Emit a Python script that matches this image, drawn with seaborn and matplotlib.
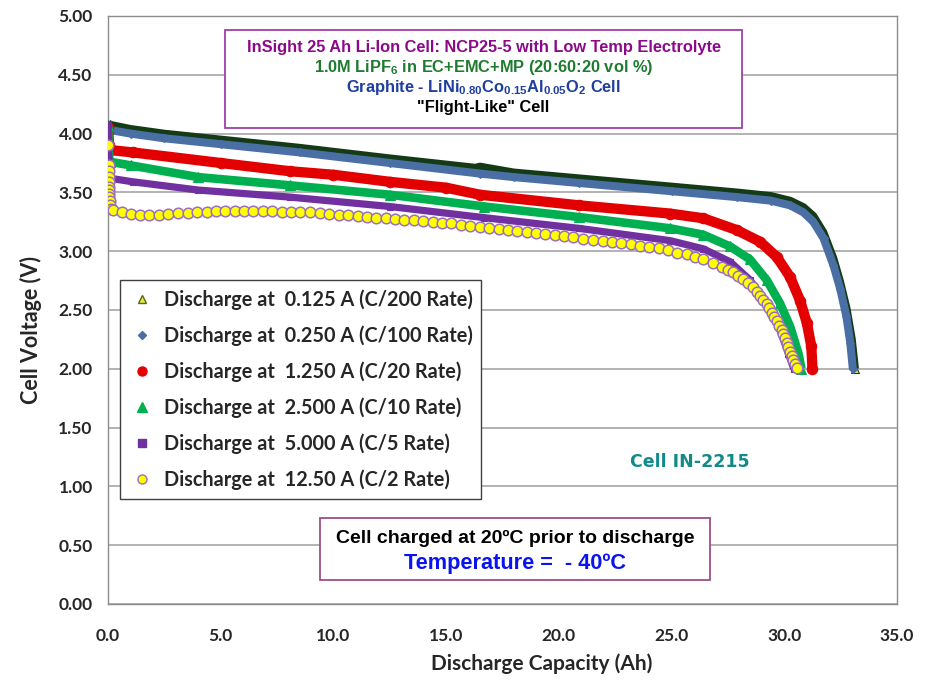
import matplotlib
matplotlib.use("Agg")
import matplotlib.pyplot as plt
from matplotlib.lines import Line2D
from matplotlib.patches import Rectangle
import seaborn as sns

sns.set_theme(style="white")
plt.rcParams["font.family"] = ["Lato", "DejaVu Sans"]
plt.rcParams["mathtext.fontset"] = "custom"
plt.rcParams["mathtext.rm"] = "Liberation Sans:bold"
plt.rcParams["mathtext.bf"] = "Liberation Sans:bold"
plt.rcParams["mathtext.it"] = "Liberation Sans:bold"

# ---------------- data ----------------
labels = [
    "Discharge at  0.125 A (C/200 Rate)",
    "Discharge at  0.250 A (C/100 Rate)",
    "Discharge at  1.250 A (C/20 Rate)",
    "Discharge at  2.500 A (C/10 Rate)",
    "Discharge at  5.000 A (C/5 Rate)",
    "Discharge at  12.50 A (C/2 Rate)",
]

cap_c200 = [0.0, 0.1, 1.0, 2.5, 5.0, 8.5, 12.5, 16.3, 16.5, 18.0, 20.9, 25.0, 27.9, 29.4,
            30.26, 30.85, 31.29, 31.74, 32.18, 32.48, 32.77, 33.0, 33.14]
v_c200 = [4.09, 4.075, 4.04, 4.00, 3.95, 3.88, 3.79, 3.71, 3.72, 3.67, 3.62, 3.55, 3.50, 3.47,
          3.43, 3.375, 3.30, 3.16, 2.94, 2.74, 2.51, 2.25, 2.00]

cap_c100 = [0.0, 0.1, 1.0, 2.5, 5.0, 8.5, 12.5, 16.5, 18.0, 20.9, 25.0, 27.9, 29.4,
            30.26, 30.85, 31.29, 31.74, 32.18, 32.48, 32.75, 32.93, 33.04]
v_c100 = [4.06, 4.03, 4.00, 3.96, 3.91, 3.84, 3.75, 3.66, 3.63, 3.58, 3.51, 3.46, 3.43,
          3.39, 3.33, 3.25, 3.11, 2.88, 2.68, 2.45, 2.22, 2.00]

cap_c20 = [0.0, 0.05, 0.1, 1.1, 5.0, 8.07, 10.0, 12.5, 15.0, 16.5, 20.9, 24.93, 26.41,
           27.89, 28.93, 29.67, 30.26, 30.70, 31.0, 31.20, 31.25]
v_c20 = [4.06, 3.90, 3.86, 3.84, 3.75, 3.68, 3.65, 3.59, 3.54, 3.48, 3.39, 3.32, 3.28,
         3.18, 3.08, 2.95, 2.78, 2.58, 2.39, 2.19, 2.00]

cap_c10 = [0.0, 0.05, 0.1, 1.0, 4.0, 8.07, 12.5, 16.7, 20.9, 24.93, 26.41, 27.6, 28.48,
           29.22, 29.81, 30.26, 30.63, 30.76]
v_c10 = [4.07, 3.80, 3.76, 3.73, 3.63, 3.56, 3.48, 3.38, 3.29, 3.195, 3.14, 3.04, 2.93,
         2.755, 2.557, 2.36, 2.13, 2.00]

cap_c5 = [0.0, 0.05, 0.1, 1.1, 4.0, 8.07, 12.5, 16.7, 20.9, 24.93, 26.41, 27.6, 28.48,
          29.22, 29.81, 30.18, 30.42]
v_c5 = [4.08, 3.70, 3.62, 3.59, 3.52, 3.46, 3.38, 3.285, 3.194, 3.09, 3.02, 2.91, 2.755,
        2.557, 2.33, 2.13, 2.00]

cap_c2 = [0.02, 0.03, 0.03, 0.04, 0.04, 0.05, 0.05, 0.06, 0.06, 0.07, 0.09, 0.13, 0.24,
          0.60, 1.00, 1.42, 1.83, 2.26, 2.68, 3.12, 3.54, 3.96, 4.38, 4.79, 5.20, 5.62,
          6.03, 6.45, 6.86, 7.29, 7.71, 8.12, 8.52, 8.96, 9.40, 9.81, 10.23, 10.66, 11.07,
          11.49, 11.90, 12.31, 12.73, 13.14, 13.57, 13.99, 14.40, 14.81, 15.23, 15.66,
          16.07, 16.50, 16.91, 17.33, 17.74, 18.16, 18.57, 18.98, 19.40, 19.81, 20.23,
          20.64, 21.08, 21.53, 21.94, 22.36, 22.77, 23.18, 23.60, 24.01, 24.43, 24.84,
          25.25, 25.67, 26.04, 26.41, 26.85, 27.22, 27.52, 27.74, 27.96, 28.18, 28.41,
          28.60, 28.78, 28.92, 29.07, 29.22, 29.34, 29.44, 29.54, 29.66, 29.78, 29.88,
          29.96, 30.03, 30.11, 30.18, 30.25, 30.33, 30.40, 30.48, 30.55]
v_c2 = [3.90, 3.73, 3.68, 3.63, 3.59, 3.55, 3.52, 3.49, 3.46, 3.43, 3.39, 3.36, 3.350,
        3.330, 3.313, 3.308, 3.308, 3.308, 3.316, 3.322, 3.327, 3.330, 3.336, 3.342, 3.345,
        3.345, 3.345, 3.342, 3.342, 3.339, 3.336, 3.336, 3.333, 3.331, 3.322, 3.316, 3.311,
        3.305, 3.299, 3.291, 3.285, 3.282, 3.274, 3.268, 3.262, 3.257, 3.251, 3.242, 3.236,
        3.225, 3.217, 3.208, 3.194, 3.186, 3.177, 3.169, 3.160, 3.152, 3.143, 3.138, 3.129,
        3.118, 3.104, 3.095, 3.087, 3.078, 3.067, 3.058, 3.047, 3.039, 3.024, 3.010, 2.988,
        2.976, 2.954, 2.930, 2.897, 2.869, 2.840, 2.820, 2.790, 2.761, 2.727, 2.693, 2.656,
        2.620, 2.585, 2.548, 2.514, 2.477, 2.443, 2.406, 2.367, 2.330, 2.296, 2.259, 2.222,
        2.183, 2.146, 2.109, 2.075, 2.041, 2.004]

x_ticks = [0, 5, 10, 15, 20, 25, 30, 35]
y_ticks = [0.0, 0.5, 1.0, 1.5, 2.0, 2.5, 3.0, 3.5, 4.0, 4.5, 5.0]

# ---------------- figure ----------------
fig = plt.figure(figsize=(9.32, 6.81), dpi=100)
ax = fig.add_axes([108 / 932, 77 / 681, 789 / 932, 588 / 681])

styles = [
    dict(x=cap_c200, y=v_c200, color="#143A16", marker="^", ms=6, mfc="#E9E93A", mec="#143A16",
         lw=5.6, every=[len(cap_c200) - 1]),
    dict(x=cap_c100, y=v_c100, color="#4A6FA5", marker="D", ms=4.5, mfc="#4A6FA5", mec="#4A6FA5",
         lw=5.8, every=None),
    dict(x=cap_c20, y=v_c20, color="#E30000", marker="o", ms=7.5, mfc="#E30000", mec="#E30000",
         lw=7.4, every=None),
    dict(x=cap_c10, y=v_c10, color="#00B050", marker="^", ms=7, mfc="#00B050", mec="#00B050",
         lw=6.2, every=None),
    dict(x=cap_c5, y=v_c5, color="#7030A0", marker="s", ms=5, mfc="#7030A0", mec="#7030A0",
         lw=5.2, every=None),
]
for i, s in enumerate(styles):
    sns.lineplot(x=s["x"], y=s["y"], ax=ax, sort=False, estimator=None, color=s["color"],
                 linewidth=s["lw"], marker=s["marker"], markersize=s["ms"],
                 markerfacecolor=s["mfc"], markeredgecolor=s["mec"], markeredgewidth=0.8,
                 markevery=s["every"], solid_joinstyle="round", solid_capstyle="butt",
                 zorder=3 + i)

sns.scatterplot(x=cap_c2, y=v_c2, ax=ax, s=58, color="#FFFF00", edgecolor="#9B6FC0",
                linewidth=1.1, zorder=9)

ax.set_xlim(0, 35)
ax.set_ylim(0, 5)
ax.set_xticks(x_ticks)
ax.set_yticks(y_ticks)
ax.set_xticklabels([f"{t:.1f}" for t in x_ticks])
ax.set_yticklabels([f"{t:.2f}" for t in y_ticks])
ax.yaxis.grid(True, color="#A6A6A6", linewidth=1.2, zorder=0)
ax.xaxis.grid(False)
ax.set_axisbelow(True)
for sp in ax.spines.values():
    sp.set_color("#8C8C8C")
    sp.set_linewidth(1.0)
ax.tick_params(axis="both", direction="out", length=5, width=1, color="#8C8C8C",
               labelsize=12.5, pad=6)
for lab in ax.get_xticklabels() + ax.get_yticklabels():
    lab.set_fontweight("bold")
ax.tick_params(axis="x", pad=12)

ax.set_xlabel("Discharge Capacity (Ah)", fontsize=15, fontweight="bold")
ax.set_ylabel("Cell Voltage (V)", fontsize=15.5, fontweight="bold")
ax.xaxis.set_label_coords(0.55, -0.084)
ax.yaxis.set_label_coords(-0.084, 0.466)

# legend
handles = [
    Line2D([], [], ls="none", marker="^", ms=5.5, mfc="#E9E93A", mec="#4E6B1E", mew=1.0),
    Line2D([], [], ls="none", marker="D", ms=4, mfc="#4A6FA5", mec="#4A6FA5"),
    Line2D([], [], ls="none", marker="o", ms=6.5, mfc="#E30000", mec="#E30000"),
    Line2D([], [], ls="none", marker="^", ms=6.5, mfc="#00B050", mec="#00B050"),
    Line2D([], [], ls="none", marker="s", ms=5.5, mfc="#7030A0", mec="#7030A0"),
    Line2D([], [], ls="none", marker="o", ms=6.5, mfc="#FFFF00", mec="#9B6FC0", mew=1.0),
]
leg = ax.legend(handles, labels, loc="upper left", bbox_to_anchor=(0.0152, 0.551),
                prop={"family": "Lato", "weight": "bold", "size": 14.3}, frameon=True,
                fancybox=False, framealpha=1, edgecolor="#3F3F3F", labelspacing=0.78,
                handletextpad=0.45, handlelength=1.3, borderpad=0.45, borderaxespad=0)
leg.get_frame().set_linewidth(1.0)
leg.set_zorder(20)

# title box
ax.add_patch(Rectangle((0.148, 0.8095), 0.6555, 0.1665, transform=ax.transAxes,
                       facecolor="white", edgecolor="#9E3FA8", linewidth=1.3, zorder=15))
tkw = dict(transform=ax.transAxes, ha="center", va="center", fontsize=11.8,
           fontweight="bold", family="Liberation Sans", zorder=16)
ax.text(0.476, 0.9456, "InSight 25 Ah Li-Ion Cell: NCP25-5 with Low Temp Electrolyte",
        color="#8B0A8B", **tkw)
ax.text(0.476, 0.9116, "1.0M LiPF$_6$ in EC+EMC+MP (20:60:20 vol %)", color="#1E7B30", **tkw)
ax.text(0.476, 0.8776, "Graphite - LiNi$_{0.80}$Co$_{0.15}$Al$_{0.05}$O$_2$ Cell",
        color="#1F3F9F", **tkw)
ax.text(0.476, 0.845, "\"Flight-Like\" Cell", color="black", **tkw)

# bottom box
ax.add_patch(Rectangle((0.2687, 0.0408), 0.4943, 0.1055, transform=ax.transAxes,
                       facecolor="white", edgecolor="#9E4F86", linewidth=1.3, zorder=15))
ax.text(0.516, 0.1122, "Cell charged at 20\u00baC prior to discharge", transform=ax.transAxes,
        ha="center", va="center", fontsize=14, fontweight="bold", family="Liberation Sans",
        color="black", zorder=16)
ax.text(0.516, 0.0697, "Temperature =  - 40\u00baC", transform=ax.transAxes,
        ha="center", va="center", fontsize=15.7, fontweight="bold", family="Liberation Sans",
        color="#0A14F0", zorder=16)

ax.text(0.738, 0.241, "Cell IN-2215", transform=ax.transAxes, ha="center", va="center",
        fontsize=12.5, fontweight="bold", family="DejaVu Sans", color="#138A8A", zorder=16)

fig.savefig("out.png", dpi=100)
